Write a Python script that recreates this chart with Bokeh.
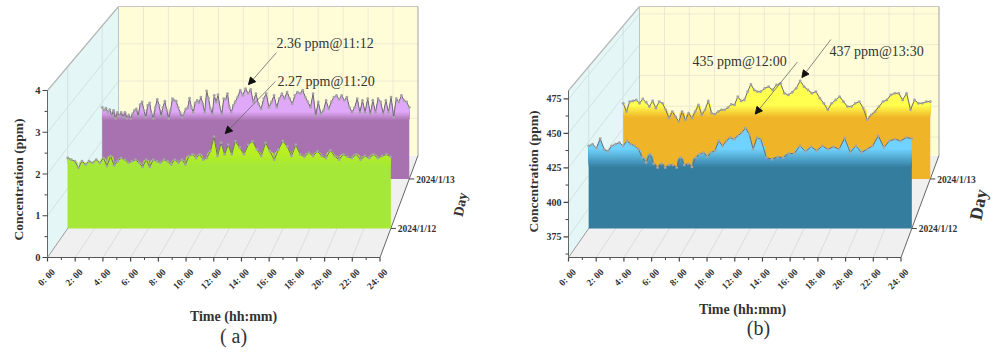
import numpy as np
from bokeh.plotting import figure
from bokeh.models import Range1d, Arrow, NormalHead
from bokeh.core.properties import value
from bokeh.embed import file_html
from bokeh.resources import INLINE

# ---- chart values ----
day13_ch4_a = [1.87,1.79,1.85,1.74,1.81,1.65,1.79,1.58,1.74,1.64,1.74,1.61,1.74,1.58,1.67,1.57,1.70,1.79,1.83,1.64,
               1.94,2.01,1.79,1.61,1.92,1.99,1.70,1.58,1.87,2.08,1.92,1.65,1.87,2.03,1.79,1.58,1.79,2.10,2.05,2.03,
               1.87,1.74,1.61,1.70,1.83,1.85,2.11,1.87,1.74,1.99,2.05,1.99,2.14,1.96,1.74,2.30,2.10,1.83,1.70,2.18,
               2.01,2.20,1.87,1.70,2.10,2.08,2.23,1.87,1.74,1.92]
day13_ch4_b = [2.01,2.14,2.32,2.18,2.36,2.23,2.34,2.01,2.23,1.96,1.83,2.10,2.23,1.87,2.01,2.18,1.87,2.10,2.23,2.10,
               2.27,2.10,1.96,2.18,2.27,2.23,2.32,2.14,2.01,1.87,2.23,1.65,2.01,1.70,1.79,2.05,1.83,2.01,2.14,2.18,
               2.08,2.18,2.05,2.14,1.87,1.74,1.87,2.10,1.74,2.05,1.74,2.10,1.70,2.05,1.74,2.10,2.01,1.70,2.05,1.74,
               2.14,1.61,2.10,2.01,2.18,2.05,2.01,1.87]
day12_ch4_a = [1.74,1.70,1.66,1.50,1.66,1.58,1.66,1.62,1.70,1.62,1.74,1.54,1.79,1.56,1.66,1.74,1.70,1.62,1.66,1.70,
               1.62,1.52,1.70,1.52,1.70,1.66,1.62,1.70,1.66,1.58,1.70,1.62,1.70,1.58,1.79,1.83,1.74,1.83,1.70,1.74,
               1.91,2.27,1.79,2.12,1.83,2.07,1.83]
day12_ch4_b = [2.16,2.00,1.83,2.07,2.16,1.95,1.79,2.12,1.91,1.70,1.95,2.16,2.03,1.79,2.07,1.83,1.77,1.87,1.79,1.91,
               1.79,1.74,1.93,1.79,1.70,1.83,1.77,1.74,1.83,1.70,1.79,1.74,1.83,1.74,1.79,1.83,1.77]
day13_co2_a = [419.8,413.2,421.1,421.6,422.4,419.8,423.2,420.6,417.2,421.6,415.9,421.1,419.8,414.6,408.0,413.2,409.3,
               405.4,413.2,406.7,411.9,408.0,413.2,418.5,410.6,414.6,421.6,411.9,411.2,413.2,414.6,414.6,416.4,419.0,
               418.5,425.0,421.6,422.4,429.0,434.8,430.3,429.0]
day13_co2_b = [429.0,431.6,432.9,430.3,434.3,435.6,427.7,426.4,428.5,431.6,437.5,432.9,430.3,427.7,429.0,423.8,419.8,
               414.6,419.8,422.4,425.0,421.1,417.2,417.2,419.8,421.1,415.9,406.7,410.6,413.2,417.2,421.1,422.4,426.4,
               427.7,427.7,422.4,427.7,414.6,422.4,419.8,419.8,421.1,421.1]
day12_co2_a = [421.7,423.0,420.0,427.2,419.2,417.5,421.7,423.0,424.2,421.7,425.4,423.0,421.7,419.2,413.0,409.3,415.5,
               408.5,405.5,408.5,405.5,407.5,407.5,405.5,413.0,407.5,408.5,406.0,413.0,415.5,416.7,413.5,416.7,418.0,
               425.4,421.7,425.4,427.9,426.7,429.2,431.6,435.0,430.4,419.2,427.9]
day12_co2_b = [426.7,413.0,411.7,413.5,413.0,416.0,416.0,421.7,417.5,421.0,418.0,421.7,419.2,421.0,419.2,427.4,416.7,
               421.7,416.7,419.2,421.7,429.2,420.5,425.4,426.7,425.4,427.9,427.2]
hour_ticks = list(range(0, 25, 2))
hour_labels = [f"{h}: 00" for h in hour_ticks]
day_labels = ["2024/1/12", "2024/1/13"]
ch4_ticks = [0, 1, 2, 3, 4]
ch4_minor = [0.5, 1.5, 2.5, 3.5]
co2_ticks = [375, 400, 425, 450, 475]
co2_minor = [362.5, 387.5, 412.5, 437.5, 462.5]

# ---- layout of the oblique box: (front plane, back plane) in page pixels ----
DEPTH_12, DEPTH_13 = 0.285, 0.77
FONT = value("Liberation Serif")

p = figure(width=995, height=352, x_range=Range1d(0, 995), y_range=Range1d(352, 0),
           output_backend="svg", toolbar_location=None, min_border=0, outline_line_color=None)
p.axis.visible = False
p.grid.visible = False


def mix(a, b, f):
    c = [int(round(a[i] + (b[i] - a[i]) * f)) for i in range(3)]
    return "#%02x%02x%02x" % tuple(c)


def panel(x0, vmin, vmax, ticks, minor, tick_fmt, tick_size, series, gradb, gradf,
          time_xy, day_xy, day_size, tag, tag_xy, notes):
    W = 332.5
    def proj(t, v, d):
        t, v = np.asarray(t, float), np.asarray(v, float)
        left = x0 + 71 * d
        right = x0 + W + 38 * d
        x = left + (right - left) * t / 24
        base = 257 - 102 * d
        h = 167 - 18 * d
        return x, base - h * (v - vmin) / (vmax - vmin)

    def seg(a, b, color, width=1.0):
        p.line([a[0], b[0]], [a[1], b[1]], line_color=color, line_width=width)

    def face(pts, color):
        p.patch([q[0] for q in pts], [q[1] for q in pts], fill_color=color, line_color=None)

    corner = lambda t, v, d: tuple(float(c) for c in proj(t, v, d))
    # walls and floor
    face([corner(0, vmin, 0), corner(24, vmin, 0), corner(24, vmin, 1), corner(0, vmin, 1)], "#f0f0f0")
    face([corner(0, vmin, 0), corner(0, vmax, 0), corner(0, vmax, 1), corner(0, vmin, 1)], "#e4f6f6")
    face([corner(0, vmin, 1), corner(0, vmax, 1), corner(24, vmax, 1), corner(24, vmin, 1)], "#fffdd8")
    # grid
    for h in hour_ticks[1:-1]:
        seg(corner(h, vmin, 1), corner(h, vmax, 1), "#eaead0")
        seg(corner(h, vmin, 0), corner(h, vmin, 1), "#dcdcdc")
    for v in ticks:
        if v == vmin:
            continue
        seg(corner(0, v, 1), corner(24, v, 1), "#eaead0")
        seg(corner(0, v, 0), corner(0, v, 1), "#d3e2e2")
    for d in (DEPTH_12, DEPTH_13):
        seg(corner(0, vmin, d), corner(0, vmax, d), "#d3e2e2")
    # box edges
    seg(corner(0, vmax, 0), corner(0, vmax, 1), "#b8b8b8", 1.2)
    seg(corner(0, vmax, 1), corner(24, vmax, 1), "#c8c8c8", 1.2)
    seg(corner(24, vmax, 1), corner(24, vmin, 1), "#b0b0b0", 1.2)
    seg(corner(0, vmax, 1), corner(0, vmin, 1), "#b8c8c8", 1.0)
    seg(corner(24, vmin, 0), corner(24, vmin, 1), "#666666", 1.0)
    seg(corner(0, vmin, 0), corner(0, vmax, 0), "#666666", 1.0)
    seg(corner(0, vmin, 0), corner(24, vmin, 0), "#555555", 1.0)
    seg(corner(0, vmin, 0), corner(0, vmin, 1), "#999999", 1.0)

    # y ticks
    for v in ticks:
        a = corner(0, v, 0)
        seg(a, (a[0] - 5, a[1]), "#444444", 1.2)
        p.text([a[0] - 7], [a[1]], text=[tick_fmt % v], text_font=FONT, text_font_style="bold",
               text_font_size=tick_size, text_color="#333333", text_align="right", text_baseline="middle")
    for v in minor:
        a = corner(0, v, 0)
        seg(a, (a[0] - 3, a[1]), "#444444", 1.0)
    # x ticks
    for h, lab in zip(hour_ticks, hour_labels):
        a = corner(h, vmin, 0)
        seg(a, (a[0], a[1] + 4), "#444444", 1.2)
        p.text([a[0] + 6], [a[1] + 13], text=[lab], text_font=FONT, text_font_style="bold",
               text_font_size="9.5px", text_color="#333333", text_align="right", text_baseline="middle",
               angle=np.pi / 4)
    for h in range(1, 24, 2):
        a = corner(h, vmin, 0)
        seg(a, (a[0], a[1] + 2.5), "#444444", 1.0)
    # day ticks
    for d, lab in zip((DEPTH_12, DEPTH_13), day_labels):
        a = corner(24, vmin, d)
        seg(a, (a[0] + 5, a[1]), "#444444", 1.0)
        p.text([a[0] + 7], [a[1] + 1], text=[lab], text_font=FONT, text_font_style="bold",
               text_font_size="9.5px", text_color="#333333", text_align="left", text_baseline="middle")

    # series (back day first)
    for d, (sa, sb, split), (lo, hi, ca, cb) in zip((DEPTH_13, DEPTH_12), series, (gradb, gradf)):
        t = np.concatenate([np.linspace(0, split, len(sa), endpoint=False), np.linspace(split, 24, len(sb))])
        v = np.array(list(sa) + list(sb), float)
        x, y_top = proj(t, v, d)
        steps = 14
        for i in range(steps + 1):
            lvl = vmin if i == 0 else lo + (hi - lo) * i / steps
            _, yy = proj(t, np.maximum(v, lvl), d)
            _, yl = proj(t, np.full_like(v, lvl), d)
            p.varea(x, yl, yy, fill_color=mix(ca, cb, i / steps))
        p.line(x, y_top, line_color="#6e6e6e", line_width=1.0)
        p.scatter(x, y_top, size=2.8, marker="circle", fill_color="#a4a4a4", line_color=None)

    # annotations
    for (t, v, d, dx, dy, tx, ty, label) in notes:
        px, py = proj(t, v, d)
        tip = (float(px) + dx, float(py) + dy)
        p.add_layout(Arrow(end=NormalHead(size=7, fill_color="#111111", line_color="#111111"),
                           x_start=tip[0] + tx, y_start=tip[1] + ty, x_end=tip[0], y_end=tip[1],
                           line_color="#666666", line_width=0.8))
    for (t, v, d, dx, dy, tx, ty, label), (lx, ly) in zip(notes, tag["note_xy"]):
        p.text([lx], [ly], text=[label], text_font=FONT, text_font_size="14px", text_color="#333333",
               text_align="left", text_baseline="middle")

    # titles
    p.text([x0 - tag["ylab_dx"]], [tag["ylab_y"]], text=["Concentration (ppm)"], text_font=FONT, text_font_style="bold",
           text_font_size="13.5px", text_color="#333333", text_align="center", text_baseline="middle",
           angle=np.pi / 2)
    p.text([time_xy[0]], [time_xy[1]], text=["Time (hh:mm)"], text_font=FONT, text_font_style="bold",
           text_font_size="14px", text_color="#333333", text_align="center", text_baseline="middle")
    p.text([day_xy[0]], [day_xy[1]], text=["Day"], text_font=FONT, text_font_style="bold",
           text_font_size=day_size, text_color="#333333", text_align="center", text_baseline="middle",
           angle=np.radians(78))
    p.text([tag_xy[0]], [tag_xy[1]], text=[tag["text"]], text_font=FONT, text_font_size="20px",
           text_color="#333333", text_align="center", text_baseline="middle")


panel(47, 0, 4, ch4_ticks, ch4_minor, "%d", "10.5px",
      ((day13_ch4_a, day13_ch4_b, 10.39), (day12_ch4_a, day12_ch4_b, 12.45)),
      (1.52, 1.75, (168, 114, 176), (224, 168, 248)),
      (1.55, 1.85, (166, 232, 56), (184, 240, 34)),
      (233, 316), (460, 204), "14px",
      {"text": "( a)", "note_xy": [(276, 43), (277, 81)], "ylab_y": 179, "ylab_dx": 29}, (233, 335),
      [(11.2, 2.36, DEPTH_13, 3, -4, 28, -32, "2.36 ppm@11:12"),
       (11.33, 2.27, DEPTH_12, 5, -3, 50, -52, "2.27 ppm@11:20")])

panel(568, 360, 481, co2_ticks, co2_minor, "%d", "10px",
      ((day13_co2_a, day13_co2_b, 10.75), (day12_co2_a, day12_co2_b, 12.78)),
      (408, 418, (240, 180, 40), (255, 255, 80)),
      (405, 419, (52, 125, 158), (112, 210, 255)),
      (742, 309), (978, 204), "18px",
      {"text": "(b)", "note_xy": [(692, 61), (829, 51)], "ylab_y": 171, "ylab_dx": 35}, (758, 327),
      [(12, 435, DEPTH_12, 5, -14, 42, -52, "435 ppm@12:00"),
       (13.5, 437, DEPTH_13, 6, -4, 29, -38, "437 ppm@13:30")])

open("out.html", "w").write(file_html(p, INLINE))
